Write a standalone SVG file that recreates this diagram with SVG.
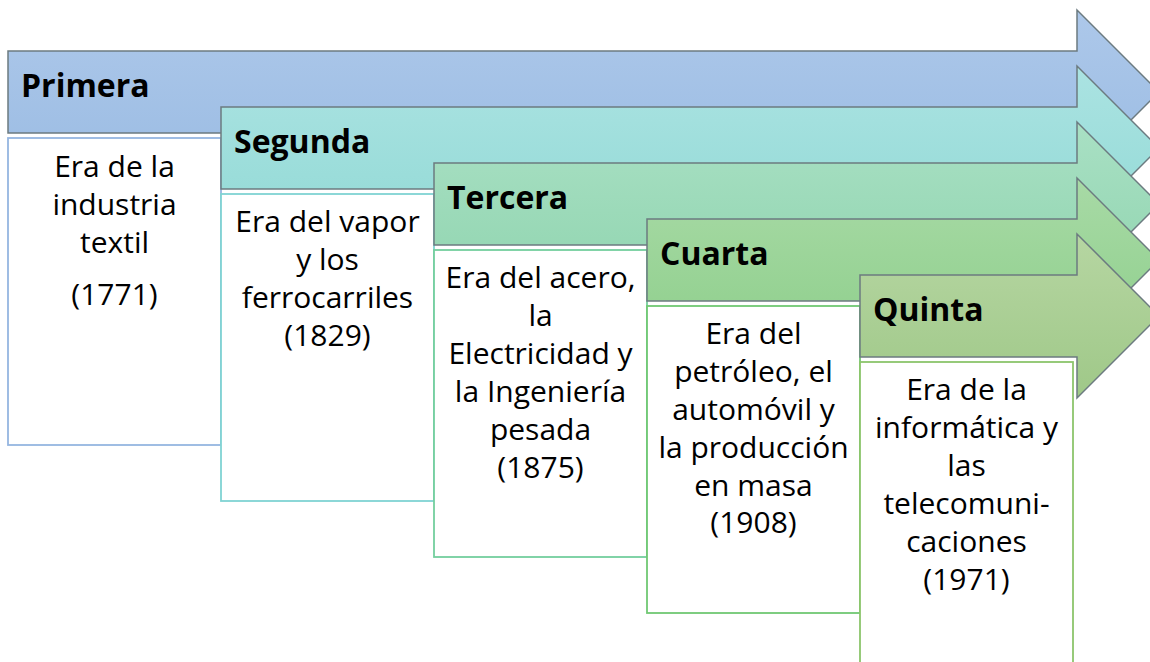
<svg xmlns="http://www.w3.org/2000/svg" width="1150" height="662" viewBox="0 0 1150 662">
<defs>
<linearGradient id="g1" x1="0" y1="0" x2="0" y2="1"><stop offset="0" stop-color="#adc8ea"/><stop offset="1" stop-color="#9bbce3"/></linearGradient>
<linearGradient id="g2" x1="0" y1="0" x2="0" y2="1"><stop offset="0" stop-color="#abe3e2"/><stop offset="1" stop-color="#93dad6"/></linearGradient>
<linearGradient id="g3" x1="0" y1="0" x2="0" y2="1"><stop offset="0" stop-color="#a9e0c4"/><stop offset="1" stop-color="#91d5b0"/></linearGradient>
<linearGradient id="g4" x1="0" y1="0" x2="0" y2="1"><stop offset="0" stop-color="#a8daa6"/><stop offset="1" stop-color="#8fcf8c"/></linearGradient>
<linearGradient id="g5" x1="0" y1="0" x2="0" y2="1"><stop offset="0" stop-color="#b6d6a2"/><stop offset="1" stop-color="#9fc888"/></linearGradient>
</defs>
<style>
.arrow{stroke:#6c7b80;stroke-width:1.5;stroke-linejoin:miter}
.box{fill:#ffffff;stroke-width:1.8}
.title{font-family:"Open Sans","Liberation Sans",sans-serif;font-weight:bold;font-size:32px;fill:#000}
.body{font-family:"Open Sans","Liberation Sans",sans-serif;font-size:30px;fill:#000;text-anchor:middle}
</style>
<rect width="1150" height="662" fill="#ffffff"/>
<g id="node-primera">
<path class="arrow" fill="url(#g1)" d="M8,51 H1077 V10 L1159,92 L1077,174 V133 H8 Z"/>
<text class="title" x="21" y="97">Primera</text>
<rect class="box" x="8" y="138" width="213" height="307" stroke="#95b6e0"/>
<text class="body" x="114.5" y="177">Era de la</text>
<text class="body" x="114.5" y="215">industria</text>
<text class="body" x="114.5" y="253">textil</text>
<text class="body" x="114.5" y="305">(1771)</text>
</g>
<g id="node-segunda">
<path class="arrow" fill="url(#g2)" d="M221,107 H1077 V66 L1159,148 L1077,230 V189 H221 Z"/>
<text class="title" x="234" y="153">Segunda</text>
<rect class="box" x="221" y="194" width="213" height="307" stroke="#80d3d3"/>
<text class="body" x="327.5" y="232">Era del vapor</text>
<text class="body" x="327.5" y="270">y los</text>
<text class="body" x="327.5" y="308">ferrocarriles</text>
<text class="body" x="327.5" y="346">(1829)</text>
</g>
<g id="node-tercera">
<path class="arrow" fill="url(#g3)" d="M434,163 H1077 V122 L1159,204 L1077,286 V245 H434 Z"/>
<text class="title" x="447" y="209">Tercera</text>
<rect class="box" x="434" y="250" width="213" height="307" stroke="#74cf9e"/>
<text class="body" x="540.5" y="288">Era del acero,</text>
<text class="body" x="540.5" y="326">la</text>
<text class="body" x="540.5" y="364">Electricidad y</text>
<text class="body" x="540.5" y="402">la Ingeniería</text>
<text class="body" x="540.5" y="440">pesada</text>
<text class="body" x="540.5" y="478">(1875)</text>
</g>
<g id="node-cuarta">
<path class="arrow" fill="url(#g4)" d="M647,219 H1077 V178 L1159,260 L1077,342 V301 H647 Z"/>
<text class="title" x="660" y="265">Cuarta</text>
<rect class="box" x="647" y="306" width="213" height="307" stroke="#70c873"/>
<text class="body" x="753.5" y="344">Era del</text>
<text class="body" x="753.5" y="382">petróleo, el</text>
<text class="body" x="753.5" y="420">automóvil y</text>
<text class="body" x="753.5" y="458">la producción</text>
<text class="body" x="753.5" y="496">en masa</text>
<text class="body" x="753.5" y="533">(1908)</text>
</g>
<g id="node-quinta">
<path class="arrow" fill="url(#g5)" d="M860,275 H1077 V234 L1159,316 L1077,398 V357 H860 Z"/>
<text class="title" x="873" y="321">Quinta</text>
<rect class="box" x="860" y="362" width="213" height="310" stroke="#8cc56c"/>
<text class="body" x="966.5" y="400">Era de la</text>
<text class="body" x="966.5" y="438">informática y</text>
<text class="body" x="966.5" y="476">las</text>
<text class="body" x="966.5" y="514">telecomuni-</text>
<text class="body" x="966.5" y="552">caciones</text>
<text class="body" x="966.5" y="590">(1971)</text>
</g>
<g id="connectors"/>
</svg>
